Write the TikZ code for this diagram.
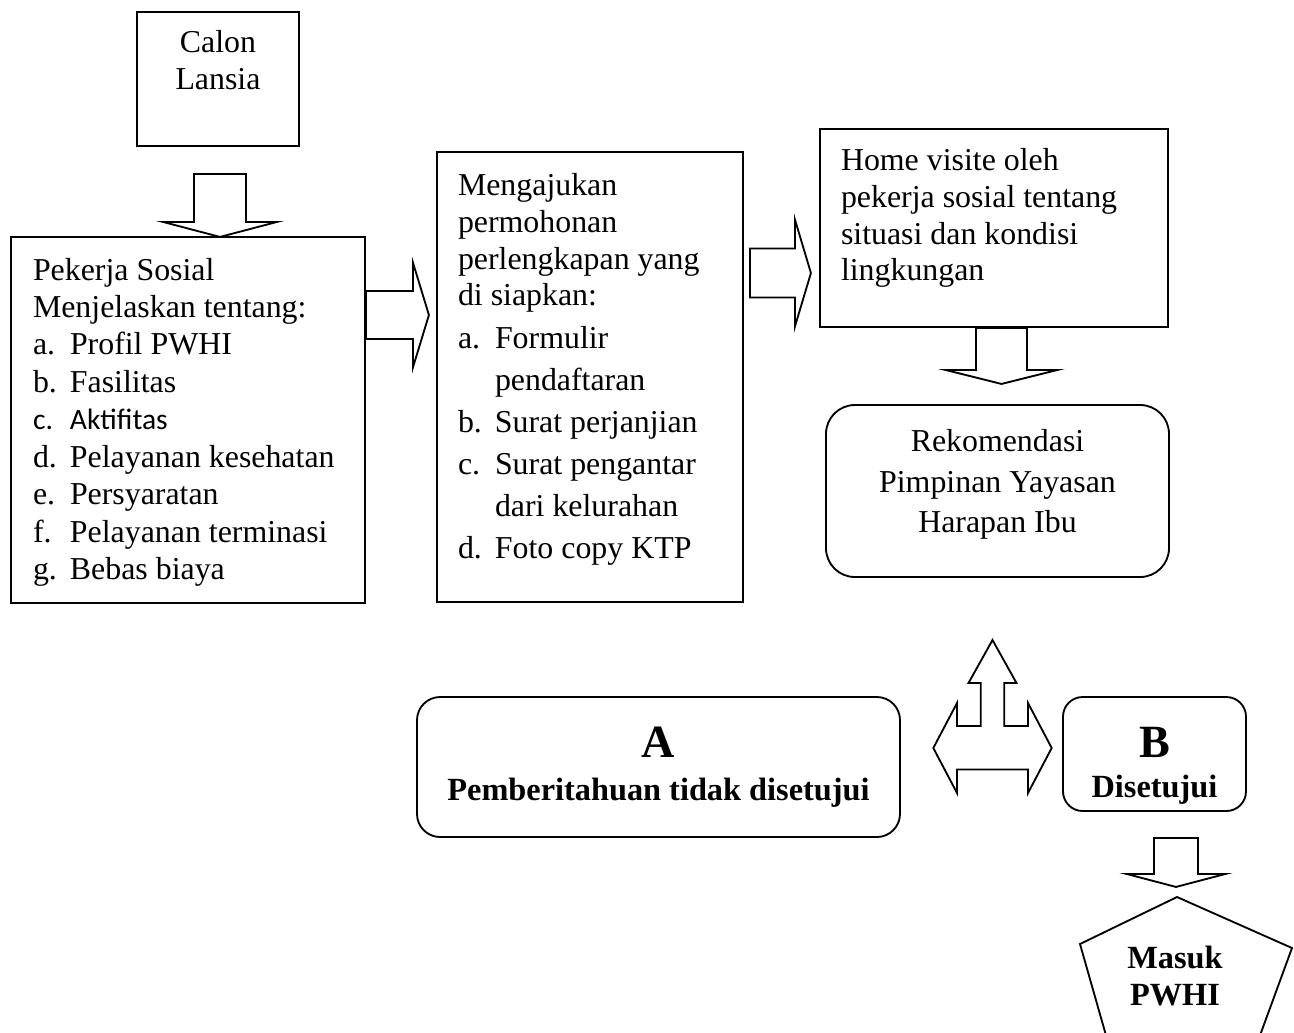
\documentclass[tikz,border=0pt]{standalone}
\usepackage{fontspec}
\setmainfont{Liberation Serif}
\newfontfamily\calibri{Carlito}
\usepackage{tikz}
\usetikzlibrary{positioning, calc}
\newlength\pxu
\setlength\pxu{0.433pt}
\newcommand{\isi}[3]{\parbox[c][#2\pxu][t]{#1\pxu}{#3}}
\newcommand{\poin}[2]{\makebox[37\pxu][l]{#1}#2}
% panah blok: ekor, putar, panjang, panjang kepala, setengah batang, setengah kepala
\newcommand{\blok}[6]{\draw [blokpanah, shift={#1}, rotate=#2] (0,-#5) -- ({#3-#4},-#5) -- ({#3-#4},-#6) -- (#3,0) -- ({#3-#4},#6) -- ({#3-#4},#5) -- (0,#5) -- cycle;}
\tikzstyle{kotak} = [rectangle, draw=black, line width=0.8pt, inner sep=0pt, font=\fontsize{13.8}{16}\selectfont]
\tikzstyle{tebal} = [font=\fontsize{14}{16}\selectfont\bfseries, align=center, inner sep=0pt]
\tikzstyle{blokpanah} = [draw=black, line width=0.8pt, line join=miter]

\begin{document}
\begin{tikzpicture}[x=0.433pt, y=-0.433pt]
    \useasboundingbox (0,0) rectangle (1294,1032);

    \node (calon) [kotak, minimum width=162\pxu, minimum height=134\pxu] at (218,79) {\isi{142}{98}{\centering Calon\\Lansia}};
    \node (pekerja) [kotak, minimum width=354\pxu, minimum height=366\pxu] at (188,420) {\isi{310}{324}{\raggedright\baselineskip=16.2pt Pekerja Sosial\\
        Menjelaskan tentang:\\
        \poin{a.}{Profil PWHI}\\
        \poin{b.}{Fasilitas}\\
        {\calibri\fontsize{12.8}{16.2}\selectfont\poin{c.}{Aktifitas}}\\
        \poin{d.}{Pelayanan kesehatan}\\
        \poin{e.}{Persyaratan}\\
        \poin{f.}{Pelayanan terminasi}\\
        \poin{g.}{Bebas biaya}}};
    \node (mengajukan) [kotak, minimum width=306\pxu, minimum height=450\pxu] at (590,377) {\isi{264}{408}{\raggedright Mengajukan\\
        permohonan\\
        perlengkapan yang\\
        di siapkan:\\[2.2pt]
        \poin{a.}{Formulir}\\[2.2pt]
        \poin{}{pendaftaran}\\[2.2pt]
        \poin{b.}{Surat perjanjian}\\[2.2pt]
        \poin{c.}{Surat pengantar}\\[2.2pt]
        \poin{}{dari kelurahan}\\[2.2pt]
        \poin{d.}{Foto copy KTP}}};
    \node (home) [kotak, minimum width=348\pxu, minimum height=198\pxu] at (994,228) {\isi{306}{160}{\raggedright Home visite oleh\\
        pekerja sosial tentang\\
        situasi dan kondisi\\
        lingkungan}};
    \node (rekomendasi) [kotak, rounded corners=12.5pt, minimum width=343\pxu, minimum height=172\pxu] at (997.5,491) {\isi{303}{124}{\centering Rekomendasi\\[1.8pt]
        Pimpinan Yayasan\\[1.3pt]
        Harapan Ibu}};
    \node (tolak) [kotak, rounded corners=10pt, minimum width=483\pxu, minimum height=140\pxu] at (658.5,767) {\isi{443}{80}{\centering\fontsize{14}{18.6}\selectfont\bfseries
        {\fontsize{20}{20}\selectfont A}\\
        Pemberitahuan tidak disetujui}};
    \node (setuju) [kotak, rounded corners=8.5pt, minimum width=183\pxu, minimum height=114\pxu] at (1154.5,754) {\isi{163}{54}{\centering\fontsize{14}{17.3}\selectfont\bfseries
        {\fontsize{20}{20}\selectfont B}\\
        Disetujui}};
    \node (masuk) [tebal] at (1175,976) {Masuk\\PWHI};

    % segi lima, terpotong di tepi bawah
    \begin{scope}
        \clip (0,0) rectangle (1294,1032);
        \draw [blokpanah, shift={(masuk)}] (2,-79) -- (117,-28) -- (76,84) -- (-62,84) -- (-95,-32) -- cycle;
    \end{scope}

    % panah blok
    \coordinate (p1) at ($(calon.south)+(2,27)$);
    \coordinate (p2) at ($(pekerja.east)+(0,-105)$);
    \coordinate (p3) at ($(mengajukan.east)+(6,-104)$);
    \coordinate (p4) at ($(home.south)+(7.5,0)$);
    \coordinate (p5) at ($(setuju.south)+(21.5,26)$);
    \blok{(p1)}{-90}{63}{15}{26}{57}
    \blok{(p2)}{0}{63}{16}{24}{52.5}
    \blok{(p3)}{0}{61}{16}{24.5}{53.5}
    \blok{(p4)}{-90}{56}{14}{25.5}{56}
    \blok{(p5)}{-90}{49}{13}{22}{49.5}

    % panah tiga arah
    \coordinate (tiga) at (992.5,748);
    \draw [blokpanah, shift={(tiga)}] (0,-108) -- (24,-65) -- (11.7,-65) -- (11.7,-22) -- (35.5,-22) -- (35.5,-45) -- (59.2,0) -- (35.5,45) -- (35.5,21.5) -- (-35.5,21.5) -- (-35.5,45) -- (-59.2,0) -- (-35.5,-45) -- (-35.5,-22) -- (-11.7,-22) -- (-11.7,-65) -- (-24,-65) -- cycle;
\end{tikzpicture}
\end{document}
